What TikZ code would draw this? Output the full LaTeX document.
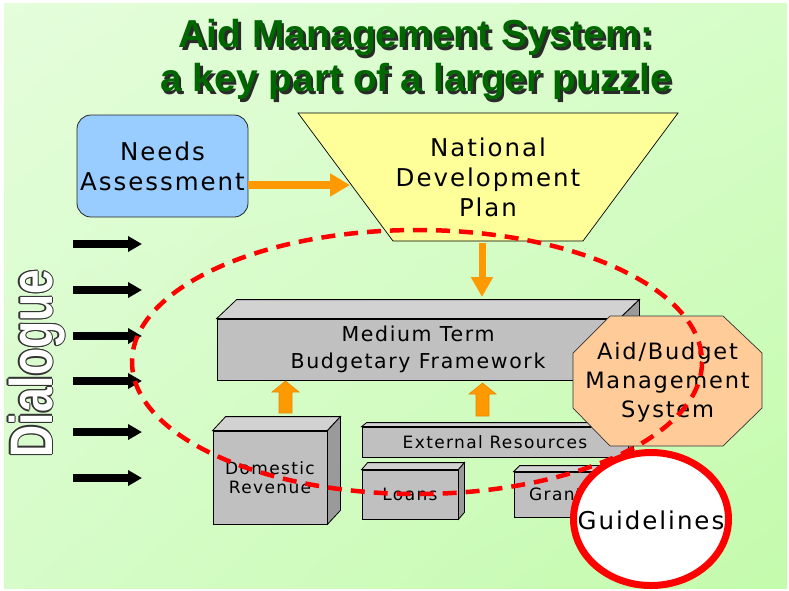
\documentclass[tikz,border=0pt]{standalone}
\usepackage{fontspec}
\usepackage{graphicx}
\setmainfont{DejaVu Sans}
\newfontfamily\bodyfont[LetterSpace=8]{DejaVu Sans}
\newfontfamily\headfont{Liberation Sans}
\usetikzlibrary{arrows.meta,calc,shapes.geometric,shadings}
\definecolor{bgTL}{HTML}{E4FDDB}
\definecolor{bgTR}{HTML}{D6FDC8}
\definecolor{bgBL}{HTML}{D6FCC9}
\definecolor{bgBR}{HTML}{C4FBAC}
\definecolor{needsblue}{HTML}{99CCFF}
\definecolor{ndpyellow}{HTML}{FFFF99}
\definecolor{boxfront}{HTML}{C0C0C0}
\definecolor{boxtop}{HTML}{D2D2D2}
\definecolor{boxside}{HTML}{9A9A9A}
\definecolor{octo}{HTML}{FFCC99}
\definecolor{orng}{HTML}{FF9900}
\definecolor{orngedge}{HTML}{E68A00}
\definecolor{titlegreen}{HTML}{006600}
\definecolor{shadowgray}{HTML}{2A2A2A}
\newcommand\cubefaces[3]{%
  \draw[topface] (#1.north west) -- ++(#2,-#3) -- ($(#1.north east)+(#2,-#3)$) -- (#1.north east) -- cycle;
  \draw[sideface] (#1.north east) -- ++(#2,-#3) -- ($(#1.south east)+(#2,-#3)$) -- (#1.south east) -- cycle;}
\newcommand\shadowtext[1]{\rlap{\kern2.5pt\raisebox{-2.5pt}{\textcolor{shadowgray}{#1}}}#1}
\begin{document}
\begin{tikzpicture}[x=1pt,y=-1pt,
  title/.style={font=\headfont\bfseries\fontsize{39}{39}\selectfont, text=titlegreen, inner sep=0pt, anchor=base},
  body/.style={align=center, text=black, inner sep=0pt},
  fs24/.style={font=\bodyfont\fontsize{24.5}{30}\selectfont},
  fs20/.style={font=\bodyfont\fontsize{20.5}{27}\selectfont},
  fs17/.style={font=\bodyfont\fontsize{17}{19.5}\selectfont},
  fs22/.style={font=\bodyfont\fontsize{22.5}{29}\selectfont},
  needsbox/.style={body, fs24, rounded corners=14pt, draw=black!85, line width=0.8pt, fill=needsblue, minimum width=171pt, minimum height=102pt},
  ndpshape/.style={draw=black, line width=0.7pt, fill=ndpyellow},
  face/.style={body, draw=black, line width=0.8pt, fill=boxfront},
  topface/.style={draw=black, line width=0.8pt, fill=boxtop},
  sideface/.style={draw=black, line width=0.8pt, fill=boxside},
  octshape/.style={draw=black!80, line width=0.7pt, fill=octo},
  orangearrow/.style={draw=orng, line width=8pt, -{Triangle[width=22pt 0, length=20pt 0]}},
  orangedown/.style={draw=orng, line width=7pt, -{Triangle[width=21pt 0, length=20pt 0]}},
  blockarrow/.style={fill=orng, draw=orngedge, line width=0.6pt},
  blackarrow/.style={draw=black, line width=8pt, -{Triangle[width=15pt 0, length=14pt 0]}},
  dialog/.style={font=\headfont\bfseries\fontsize{60}{60}\selectfont, rotate=90, anchor=base, inner sep=0pt},
  ring/.style={draw=red, line width=4.5pt, dash pattern=on 14pt off 9pt},
  guidestyle/.style={ellipse, draw=red, line width=7pt, fill=white, inner sep=0pt, minimum width=155pt, minimum height=133pt}
]
\useasboundingbox (0,0) rectangle (789,590);
\fill[white] (0,0) rectangle (789,590);
\shade[upper left=bgTL, upper right=bgTR, lower left=bgBL, lower right=bgBR] (4,3) rectangle (787,588);

% title
\node[title] (t1) at (416,47.5) {\shadowtext{Aid Management System:}};
\node[title] (t2) at (416,91.5) {\shadowtext{a key part of a larger puzzle}};

% Dialogue
\coordinate (dlgpos) at (52,363.5);
\foreach \dx/\dy [count=\k] in {1.3/0,-1.3/0,0/1.3,0/-1.3,0.9/0.9,-0.9/0.9,0.9/-0.9,-0.9/-0.9}
  \node[dialog, text=black!80] (dlgo\k) at ($(dlgpos)+(\dx,\dy)$) {\scalebox{0.74}[1]{Dialogue}};
\node[dialog, text=white] (dlg) at (dlgpos) {\scalebox{0.74}[1]{Dialogue}};

% black arrows
\foreach \yy [count=\k] in {244,290,336,381,432,478} {
  \coordinate (da\k) at (73,\yy);
  \coordinate (db\k) at (142,\yy);
  \draw[blackarrow] (da\k) -- (db\k);
}

% Needs assessment
\node[needsbox] (needs) at (162.5,166) {Needs\\Assessment};

% National development plan
\draw[ndpshape] (298,113) -- (678,113) -- (583,241) -- (393,241) -- cycle;
\node[body, fs24] (ndp) at (488,177) {National\\Development\\Plan};
\coordinate (ndpL) at (350,185);
\draw[orangearrow] (needs.east |- ndpL) -- (ndpL);
\coordinate (ndpB) at (482,243);
\coordinate (mtbfT) at (482,297);
\draw[orangedown] (ndpB) -- (mtbfT);

% MTBF
\node[face, fs20, minimum width=402pt, minimum height=61pt] (mtbf) at (418,349.5) {Medium Term\\Budgetary Framework};
\cubefaces{mtbf}{20}{19}

% Domestic revenue
\node[face, fs17, minimum width=114pt, minimum height=93pt] (dom) at (270,477.5) {Domestic\\Revenue};
\cubefaces{dom}{13}{14}

% External resources
\node[face, fs17, minimum width=266pt, minimum height=30pt] (ext) at (495,442) {External Resources};
\cubefaces{ext}{5}{4}

% Loans
\node[face, fs17, minimum width=96pt, minimum height=49pt] (loans) at (410,494.5) {Loans};
\cubefaces{loans}{6}{7}

% Grants
\node[face, fs17, minimum width=94pt, minimum height=45pt] (grants) at (561,494.5) {Grants};
\cubefaces{grants}{6}{6}

% block up arrows
\coordinate (u1t) at (285.5,381);
\coordinate (u2t) at (482.5,383);
\draw[blockarrow] (u1t) -- ++(13.5,11) -- ++(-7,0) -- ++(0,21) -- ++(-13,0) -- ++(0,-21) -- ++(-7,0) -- cycle;
\draw[blockarrow] (u2t) -- ++(13.5,11) -- ++(-7,0) -- ++(0,22) -- ++(-13,0) -- ++(0,-22) -- ++(-7,0) -- cycle;

% Aid/Budget management system
\draw[octshape] (610,316) -- (723,316) -- (762,353) -- (762,408) -- (723,446) -- (610,446) -- (573,408) -- (573,353) -- cycle;
\node[body, fs22] (amb) at (667.5,382) {Aid/Budget\\Management\\System};

% dashed ring
\draw[ring] (417,362) ellipse [x radius=285, y radius=132];

% Guidelines
\node[guidestyle] (guide) at (651,519) {};
\node[body, fs24] (guidetext) at (651,520) {Guidelines};
\end{tikzpicture}
\end{document}
